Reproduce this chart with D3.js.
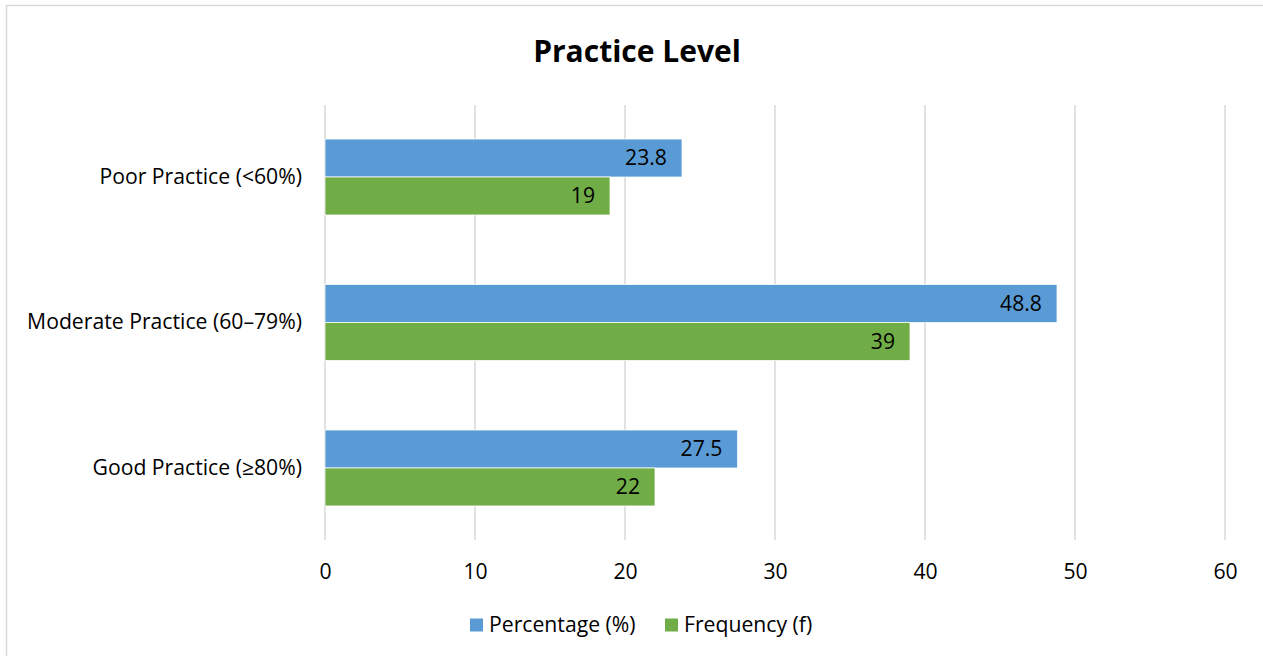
<!DOCTYPE html>
<html>
<head>
<meta charset="utf-8">
<script src="https://cdn.jsdelivr.net/npm/d3@7"></script>
<style>
  html, body { margin: 0; padding: 0; background: #fff; }
  svg { display: block; font-family: "Open Sans", "Noto Sans", sans-serif; }
</style>
</head>
<body>
<svg id="chart" width="1263" height="656"></svg>
<script>
// Practice level by category: percentage and frequency
const categories = ["Poor Practice (<60%)", "Moderate Practice (60–79%)", "Good Practice (≥80%)"];
const seriesNames = ["Percentage (%)", "Frequency (f)"];
const percentage = [23.8, 48.8, 27.5];
const frequency = [19, 39, 22];
const xTicks = [0, 10, 20, 30, 40, 50, 60];
const colors = ["#5B9BD5", "#70AD47"];

const svg = d3.select("#chart");
const W = 1263, H = 656;
const FS = 21.2;

// chart frame
svg.append("rect")
  .attr("x", 6.5).attr("y", 5.5)
  .attr("width", W + 10).attr("height", H + 10)
  .attr("fill", "#fff").attr("stroke", "#d9d9d9").attr("stroke-width", 1.5);

const plot = { left: 325, right: 1225, top: 105, bottom: 540 };

const x = d3.scaleLinear().domain([0, 60]).range([plot.left, plot.right]);
const y = d3.scaleBand().domain(categories).range([plot.top, plot.bottom]).paddingInner(0.478).paddingOuter(0.234);
const ySub = d3.scaleBand().domain(seriesNames).range([0, y.bandwidth()]);

// title
svg.append("text")
  .attr("x", 637).attr("y", 62)
  .attr("text-anchor", "middle")
  .attr("font-size", 30).attr("font-weight", "bold").attr("fill", "#000")
  .text("Practice Level");

// vertical gridlines
svg.append("g").selectAll("line").data(xTicks).join("line")
  .attr("x1", d => x(d)).attr("x2", d => x(d))
  .attr("y1", plot.top).attr("y2", plot.bottom)
  .attr("stroke", "#d9d9d9").attr("stroke-width", 1.5);

// x axis tick labels
const xAxis = d3.axisBottom(x).tickValues(xTicks).tickSize(0).tickPadding(0).tickFormat(d3.format("d"));
const gx = svg.append("g").attr("transform", `translate(0,${plot.bottom + 32})`).call(xAxis);
gx.select(".domain").remove();
gx.selectAll("text").attr("font-size", FS).attr("fill", "#000").attr("font-family", "Open Sans, sans-serif").attr("dy", "0.35em");

// category labels
const yAxis = d3.axisLeft(y).tickSize(0).tickPadding(23);
const gy = svg.append("g").attr("transform", `translate(${plot.left},0)`).call(yAxis);
gy.select(".domain").remove();
gy.selectAll("text").attr("font-size", FS).attr("fill", "#000").attr("font-family", "Open Sans, sans-serif");

// bars
const rows = categories.map((c, i) => ({ cat: c, vals: [percentage[i], frequency[i]] }));
const groups = svg.append("g").selectAll("g").data(rows).join("g")
  .attr("transform", d => `translate(0,${y(d.cat)})`);

groups.selectAll("rect").data(d => d.vals.map((v, j) => ({ v, j }))).join("rect")
  .attr("x", x(0))
  .attr("y", d => ySub(seriesNames[d.j]))
  .attr("width", d => x(d.v) - x(0))
  .attr("height", ySub.bandwidth())
  .attr("fill", d => colors[d.j])
  .attr("stroke", "#fff").attr("stroke-width", 0.75);

groups.selectAll("text").data(d => d.vals.map((v, j) => ({ v, j }))).join("text")
  .attr("x", d => x(d.v) - 15)
  .attr("y", d => ySub(seriesNames[d.j]) + ySub.bandwidth() / 2)
  .attr("dy", "0.35em")
  .attr("text-anchor", "end")
  .attr("font-size", FS).attr("fill", "#000")
  .text(d => d.v);

// legend
const legend = svg.append("g").attr("transform", "translate(470,625)");
const legendX = [0, 195];
seriesNames.forEach((name, i) => {
  const g = legend.append("g").attr("transform", `translate(${legendX[i]},0)`);
  g.append("rect").attr("x", 0).attr("y", -6.5).attr("width", 13).attr("height", 13).attr("fill", colors[i]);
  g.append("text").attr("x", 19).attr("y", 0).attr("dy", "0.35em")
    .attr("font-size", FS).attr("fill", "#000").text(name);
});
</script>
</body>
</html>
